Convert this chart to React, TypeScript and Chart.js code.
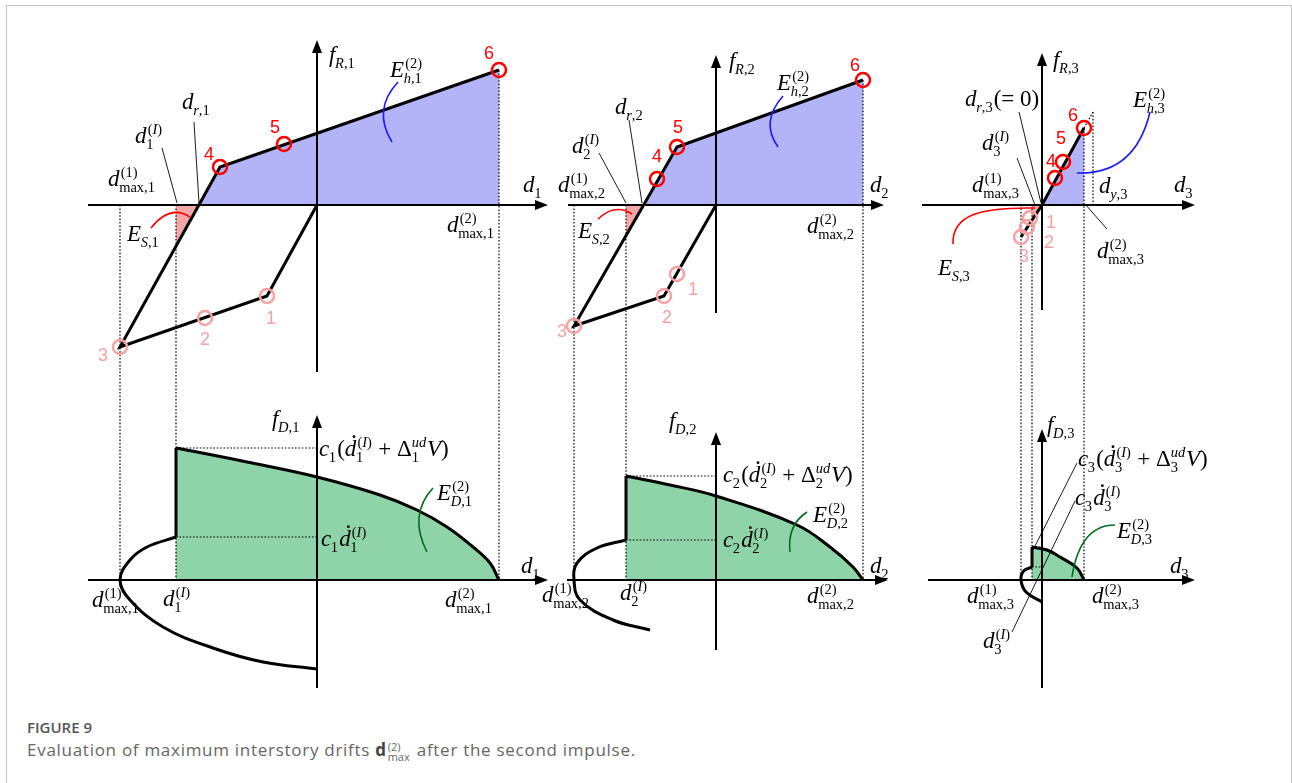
import { useEffect, useRef } from "react";
import { Chart, registerables } from "chart.js";

Chart.register(...registerables);

type Pt = { x: number; y: number };
const p = (x: number, y: number): Pt => ({ x, y });

// ── Story 1: restoring-force path (d1, fR1) and damping-force curves (d1, fD1) ──
const s1Path: Pt[] = [p(0, 0), p(-2.5, -4.55), p(-9.85, -7.1), p(-4.85, 1.9), p(9.1, 6.75)];
const s1Impulse1: Pt[] = [p(-2.5, -4.55), p(-5.6, -5.65), p(-9.85, -7.1)];
const s1Impulse2: Pt[] = [p(-4.85, 1.9), p(-1.65, 3.05), p(9.1, 6.75)];
const s1Drifts = [-9.85, -7.05, 9.1]; // d_max^(1), d^(I), d_max^(2)
const s1Damp2: Pt[] = [p(-7.05, 6.6), p(-3.5, 5.9), p(0, 5.15), p(3.15, 4.25), p(5.0, 3.5), p(6.5, 2.65), p(7.8, 1.65), p(8.65, 0.85), p(9.1, 0)];
const s1Damp1: Pt[] = [p(-7.05, 2.15), p(-8.5, 1.65), p(-9.35, 1.0), p(-9.85, 0), p(-9.35, -1.0), p(-7.7, -2.35), p(-5.2, -3.4), p(-2.7, -4.1), p(0, -4.45)];

// ── Story 2 ──
const s2Path: Pt[] = [p(0, 0), p(-2.6, -4.55), p(-7.1, -6.05), p(-1.95, 2.9), p(7.35, 6.25)];
const s2Impulse1: Pt[] = [p(-1.95, -3.45), p(-2.6, -4.55), p(-7.1, -6.05)];
const s2Impulse2: Pt[] = [p(-2.95, 1.3), p(-1.95, 2.9), p(7.35, 6.25)];
const s2Drifts = [-7.1, -4.5, 7.35];
const s2Damp2: Pt[] = [p(-4.5, 5.2), p(-2.3, 4.75), p(0, 4.2), p(4.05, 2.75), p(5.7, 1.65), p(6.85, 0.65), p(7.35, 0)];
const s2Damp1: Pt[] = [p(-4.5, 2.0), p(-5.95, 1.6), p(-6.95, 0.85), p(-7.1, 0), p(-6.8, -1.0), p(-5.15, -2.0), p(-3.3, -2.5)];

// ── Story 3 (stays elastic) ──
const s3Path: Pt[] = [p(-1.05, -1.6), p(0, 0), p(2.1, 3.85)];
const s3Impulse1: Pt[] = [p(-0.6, -0.65), p(-0.75, -1.1), p(-1.05, -1.6)];
const s3Impulse2: Pt[] = [p(0.65, 1.35), p(1.05, 2.15), p(2.1, 3.85)];
const s3Drifts = [-1.05, -0.5, 2.1];
const s3Yield: Pt = p(2.55, 4.65); // (d_y3, f at yield)
const s3Damp2: Pt[] = [p(-0.5, 1.65), p(0.25, 1.5), p(0.9, 1.15), p(1.75, 0.6), p(2.1, 0)];
const s3Damp1: Pt[] = [p(-0.5, 0.65), p(-0.92, 0.45), p(-1.05, 0), p(-0.8, -0.6), p(0, -1.1)];

const stories = [
  { path: s1Path, reload: 2, imp1: s1Impulse1, imp2: s1Impulse2, drifts: s1Drifts, damp2: s1Damp2, damp1: s1Damp1 },
  { path: s2Path, reload: 2, imp1: s2Impulse1, imp2: s2Impulse2, drifts: s2Drifts, damp2: s2Damp2, damp1: s2Damp1 },
  { path: s3Path, reload: 0, imp1: s3Impulse1, imp2: s3Impulse2, drifts: s3Drifts, damp2: s3Damp2, damp1: s3Damp1 },
];

// ── Layout ──
const W = 1292;
const H = 700;
const UNIT = 20; // px per unit on every axis
const ORIGIN_X = [317, 716, 1042];
const ORIGIN_YR = 205;
const ORIGIN_YD = 580;

// axis reach per story: [hMin, hMax (arrow tip), vMin, vMax (arrow tip)]
const axisReach = [
  { yR: [-11.45, 11.55, -8.35, 8.25], yD: [-11.45, 11.55, -5.4, 8.25] },
  { yR: [-7.4, 8.4, -5.4, 7.5], yD: [-7.45, 8.6, -3.5, 7.4] },
  { yR: [-6.0, 7.65, -5.25, 7.6], yD: [-5.7, 7.65, -5.4, 7.55] },
];

const INK = "#000";
const RED = "#ff0000";
const PINK = "#f6a2a2";
const HYST_FILL = "#b3b3f7";
const STRAIN_FILL = "#f5a6a6";
const DAMP_FILL = "#8fd4a8";
const CLEAR = "rgba(0,0,0,0)";

type Panel = "yR" | "yD";
type Label = { k: number; panel: Panel; at: Pt; tex: string };

const labels: Label[] = [
  // story 1, restoring force
  { k: 0, panel: "yR", at: p(0.6, 7.15), tex: "f_{R,1}" },
  { k: 0, panel: "yR", at: p(3.65, 6.4), tex: "E_{h,1}^{(2)}" },
  { k: 0, panel: "yR", at: p(-6.75, 4.8), tex: "d_{r,1}" },
  { k: 0, panel: "yR", at: p(-9.1, 3.1), tex: "d_1^{(I)}" },
  { k: 0, panel: "yR", at: p(-10.45, 0.95), tex: "d_{\\max,1}^{(1)}" },
  { k: 0, panel: "yR", at: p(-9.5, -1.8), tex: "E_{S,1}" },
  { k: 0, panel: "yR", at: p(6.5, -1.35), tex: "d_{\\max,1}^{(2)}" },
  { k: 0, panel: "yR", at: p(10.3, 0.65), tex: "d_1" },
  // story 1, damping force
  { k: 0, panel: "yD", at: p(-2.25, 7.7), tex: "f_{D,1}" },
  { k: 0, panel: "yD", at: p(0.1, 6.2), tex: "c_1(\\dot{d}_1^{(I)} + \\Delta_1^{ud}V)" },
  { k: 0, panel: "yD", at: p(0.2, 1.7), tex: "c_1\\dot{d}_1^{(I)}" },
  { k: 0, panel: "yD", at: p(6.0, 4.0), tex: "E_{D,1}^{(2)}" },
  { k: 0, panel: "yD", at: p(-11.25, -1.35), tex: "d_{\\max,1}^{(1)}" },
  { k: 0, panel: "yD", at: p(-7.7, -1.3), tex: "d_1^{(I)}" },
  { k: 0, panel: "yD", at: p(6.4, -1.35), tex: "d_{\\max,1}^{(2)}" },
  { k: 0, panel: "yD", at: p(10.2, 0.35), tex: "d_1" },
  // story 2, restoring force
  { k: 1, panel: "yR", at: p(0.65, 6.85), tex: "f_{R,2}" },
  { k: 1, panel: "yR", at: p(3.05, 5.75), tex: "E_{h,2}^{(2)}" },
  { k: 1, panel: "yR", at: p(-5.05, 4.55), tex: "d_{r,2}" },
  { k: 1, panel: "yR", at: p(-7.2, 2.6), tex: "d_2^{(I)}" },
  { k: 1, panel: "yR", at: p(-7.9, 0.65), tex: "d_{\\max,2}^{(1)}" },
  { k: 1, panel: "yR", at: p(-6.9, -1.65), tex: "E_{S,2}" },
  { k: 1, panel: "yR", at: p(4.55, -1.4), tex: "d_{\\max,2}^{(2)}" },
  { k: 1, panel: "yR", at: p(7.7, 0.65), tex: "d_2" },
  // story 2, damping force
  { k: 1, panel: "yD", at: p(-2.35, 7.6), tex: "f_{D,2}" },
  { k: 1, panel: "yD", at: p(0.35, 4.9), tex: "c_2(\\dot{d}_2^{(I)} + \\Delta_2^{ud}V)" },
  { k: 1, panel: "yD", at: p(0.35, 1.65), tex: "c_2\\dot{d}_2^{(I)}" },
  { k: 1, panel: "yD", at: p(4.85, 2.9), tex: "E_{D,2}^{(2)}" },
  { k: 1, panel: "yD", at: p(-8.7, -1.1), tex: "d_{\\max,2}^{(1)}" },
  { k: 1, panel: "yD", at: p(-4.8, -1.0), tex: "d_2^{(I)}" },
  { k: 1, panel: "yD", at: p(4.55, -1.15), tex: "d_{\\max,2}^{(2)}" },
  { k: 1, panel: "yD", at: p(7.7, 0.35), tex: "d_2" },
  // story 3, restoring force
  { k: 2, panel: "yR", at: p(0.55, 6.9), tex: "f_{R,3}" },
  { k: 2, panel: "yR", at: p(4.55, 4.9), tex: "E_{h,3}^{(2)}" },
  { k: 2, panel: "yR", at: p(-3.85, 4.95), tex: "d_{r,3}(= 0)" },
  { k: 2, panel: "yR", at: p(-3.0, 2.75), tex: "d_3^{(I)}" },
  { k: 2, panel: "yR", at: p(-3.5, 0.65), tex: "d_{\\max,3}^{(1)}" },
  { k: 2, panel: "yR", at: p(2.85, 0.6), tex: "d_{y,3}" },
  { k: 2, panel: "yR", at: p(2.75, -2.65), tex: "d_{\\max,3}^{(2)}" },
  { k: 2, panel: "yR", at: p(-5.2, -3.5), tex: "E_{S,3}" },
  { k: 2, panel: "yR", at: p(6.6, 0.65), tex: "d_3" },
  // story 3, damping force
  { k: 2, panel: "yD", at: p(0.25, 7.4), tex: "f_{D,3}" },
  { k: 2, panel: "yD", at: p(1.8, 5.7), tex: "c_3(\\dot{d}_3^{(I)} + \\Delta_3^{ud}V)" },
  { k: 2, panel: "yD", at: p(1.65, 3.75), tex: "c_3\\dot{d}_3^{(I)}" },
  { k: 2, panel: "yD", at: p(3.75, 2.1), tex: "E_{D,3}^{(2)}" },
  { k: 2, panel: "yD", at: p(-3.75, -1.15), tex: "d_{\\max,3}^{(1)}" },
  { k: 2, panel: "yD", at: p(2.5, -1.15), tex: "d_{\\max,3}^{(2)}" },
  { k: 2, panel: "yD", at: p(-2.95, -3.4), tex: "d_3^{(I)}" },
  { k: 2, panel: "yD", at: p(6.4, 0.35), tex: "d_3" },
];

// where the step numbers 1..6 sit, per story
const stepTextAt: Pt[][] = [
  [p(-2.3, -5.7), p(-5.6, -6.75), p(-10.7, -7.55), p(-5.4, 2.5), p(-2.1, 3.85), p(8.6, 7.55)],
  [p(-1.15, -4.25), p(-2.45, -5.65), p(-7.7, -6.35), p(-2.95, 2.4), p(-1.9, 3.85), p(6.95, 6.95)],
  [p(0.45, -0.9), p(0.35, -1.9), p(-0.9, -2.6), p(0.45, 2.15), p(0.95, 3.3), p(1.55, 4.45)],
];

// thin pointer lines from labels
const pointers: { k: number; panel: Panel; a: Pt; b: Pt }[] = [
  { k: 0, panel: "yR", a: p(-6.15, 4.15), b: p(-5.9, 0.1) },
  { k: 0, panel: "yR", a: p(-7.75, 2.85), b: p(-7.0, 0.1) },
  { k: 1, panel: "yR", a: p(-4.35, 4.25), b: p(-3.7, 0.1) },
  { k: 1, panel: "yR", a: p(-5.85, 2.6), b: p(-4.5, 0.1) },
  { k: 2, panel: "yR", a: p(-1.15, 4.65), b: p(-0.05, 0.1) },
  { k: 2, panel: "yR", a: p(-1.25, 2.35), b: p(-0.35, 0.0) },
  { k: 2, panel: "yR", a: p(2.15, 0.05), b: p(3.25, -1.2) },
  { k: 2, panel: "yD", a: p(1.75, 5.85), b: p(-0.45, 1.5) },
  { k: 2, panel: "yD", a: p(1.65, 3.95), b: p(-1.5, -2.6) },
];

// curved callouts for the energy areas
const callouts: { k: number; panel: Panel; pts: Pt[]; color: string }[] = [
  { k: 0, panel: "yR", pts: [p(4.05, 6.15), p(2.75, 4.75), p(3.75, 3.15)], color: "#1a1aff" },
  { k: 0, panel: "yR", pts: [p(-8.3, -1.15), p(-7.35, 0.05), p(-6.35, -0.6)], color: RED },
  { k: 0, panel: "yD", pts: [p(5.8, 4.6), p(4.55, 3.25), p(5.5, 1.4)], color: "#006b1a" },
  { k: 1, panel: "yR", pts: [p(3.35, 5.45), p(2.2, 4.15), p(3.1, 2.9)], color: "#1a1aff" },
  { k: 1, panel: "yR", pts: [p(-5.9, -0.7), p(-5.05, 0.1), p(-4.2, -0.45)], color: RED },
  { k: 1, panel: "yD", pts: [p(4.55, 3.4), p(3.55, 2.75), p(3.7, 1.4)], color: "#006b1a" },
  { k: 2, panel: "yR", pts: [p(5.4, 4.65), p(4.65, 1.5), p(1.75, 1.6)], color: "#1a1aff" },
  { k: 2, panel: "yR", pts: [p(-4.45, -1.95), p(-4.5, -0.5), p(-3.1, -0.1), p(-0.35, -0.15)], color: RED },
  { k: 2, panel: "yD", pts: [p(3.65, 2.75), p(1.9, 2.75), p(1.5, 0.15)], color: "#006b1a" },
];

// ── geometry helpers ──
const yOnSeg = (a: Pt, b: Pt, x: number) => a.y + ((b.y - a.y) * (x - a.x)) / (b.x - a.x);
const xAtZero = (a: Pt, b: Pt) => a.x + ((0 - a.y) * (b.x - a.x)) / (b.y - a.y);

// dotted guide segments: each end may live on a different panel
type Guide = { k: number; a: Pt; pa: Panel; b: Pt; pb: Panel };
function buildGuides(): Guide[] {
  const g: Guide[] = [];
  stories.forEach((s, k) => {
    const [dMax1, dI, dMax2] = s.drifts;
    const peak = s.imp2[s.imp2.length - 1];
    g.push({ k, a: p(dMax1, 0), pa: "yR", b: p(dMax1, 0), pb: "yD" });
    g.push({ k, a: p(dI, 0), pa: "yR", b: p(dI, 0), pb: "yD" });
    g.push({ k, a: p(dMax2, peak.y), pa: "yR", b: p(dMax2, 0), pb: "yD" });
    g.push({ k, a: p(dI, s.damp2[0].y), pa: "yD", b: p(0, s.damp2[0].y), pb: "yD" });
    g.push({ k, a: p(dI, s.damp1[0].y), pa: "yD", b: p(0, s.damp1[0].y), pb: "yD" });
  });
  const top3 = s3Impulse2[s3Impulse2.length - 1];
  g.push({ k: 2, a: top3, pa: "yR", b: s3Yield, pb: "yR" });
  g.push({ k: 2, a: s3Yield, pa: "yR", b: p(s3Yield.x, 0), pb: "yR" });
  return g;
}
const guides = buildGuides();

// ── tiny math-text typesetter (italic variables, upright digits, sub/superscripts, dot accent) ──
type MAtom = { t: "a"; s: string; it: boolean; dot?: boolean };
type MScript = { t: "s"; sub?: MItem[]; sup?: MItem[] };
type MItem = MAtom | MScript;

function parseTex(src: string): MItem[] {
  let i = 0;
  const token = (): MItem[] => {
    const c = src[i];
    if (c === "{") {
      i++;
      const g = seq();
      i++;
      return g;
    }
    if (c === "\\") {
      let j = i + 1;
      while (j < src.length && /[A-Za-z]/.test(src[j])) j++;
      const name = src.slice(i + 1, j);
      i = j;
      if (name === "dot") {
        const g = token();
        g.forEach((it) => {
          if (it.t === "a") it.dot = true;
        });
        return g;
      }
      return [{ t: "a", s: name === "Delta" ? "Δ" : name, it: false }];
    }
    i++;
    return [{ t: "a", s: c, it: /[A-Za-z]/.test(c) }];
  };
  const seq = (): MItem[] => {
    const out: MItem[] = [];
    while (i < src.length && src[i] !== "}") {
      const c = src[i];
      if (c === "_" || c === "^") {
        i++;
        const g = token();
        const key = c === "_" ? "sub" : "sup";
        const last = out[out.length - 1] as any;
        if (last && last.t === "s" && !last[key]) last[key] = g;
        else out.push({ t: "s", [key]: g } as MScript);
      } else out.push(...token());
    }
    return out;
  };
  return seq();
}

const SERIF = '"Liberation Serif", "Times New Roman", serif';
const LABEL_SIZE = 23;
const SCRIPT_RATIO = 0.63;

function texRun(ctx: CanvasRenderingContext2D, items: MItem[], x: number, y: number, size: number): number {
  let cx = x;
  items.forEach((it, idx) => {
    if (it.t === "a") {
      ctx.font = `${it.it ? "italic " : ""}${size}px ${SERIF}`;
      const w = ctx.measureText(it.s).width;
      ctx.fillText(it.s, cx, y);
      if (it.dot) {
        ctx.beginPath();
        ctx.arc(cx + w * 0.8, y - size * 0.84, size * 0.06, 0, Math.PI * 2);
        ctx.fill();
      }
      cx += w;
    } else {
      const ss = size * SCRIPT_RATIO;
      const prev = items[idx - 1];
      const kern = prev && prev.t === "a" && prev.it ? size * 0.05 : 0;
      let w = 0;
      if (it.sup) w = Math.max(w, kern + texRun(ctx, it.sup, cx + kern, y - size * 0.4, ss));
      if (it.sub) w = Math.max(w, texRun(ctx, it.sub, cx - kern * 0.3, y + size * 0.27, ss));
      cx += w + size * 0.03;
    }
  });
  return cx - x;
}

const parsedLabels = labels.map((l) => ({ ...l, items: parseTex(l.tex) }));

// ── chart ──
function buildDatasets() {
  const ds: any[] = [];
  stories.forEach((s, k) => {
    const xAxisID = `x${k}`;
    const [, dI, dMax2] = s.drifts;
    const a = s.path[s.reload];
    const b = s.path[s.reload + 1];
    const dr = xAtZero(a, b);
    const base = { xAxisID, pointRadius: 0, tension: 0, fill: false, borderColor: INK, borderWidth: 3, borderJoinStyle: "miter" };
    ds.push({ ...base, yAxisID: "yR", data: [p(dr, 0), ...s.path.slice(s.reload + 1), p(dMax2, 0)], fill: "origin", backgroundColor: HYST_FILL, borderColor: CLEAR, order: 3 });
    ds.push({ ...base, yAxisID: "yR", data: [p(dI, yOnSeg(a, b, dI)), p(dr, 0)], fill: "origin", backgroundColor: STRAIN_FILL, borderColor: CLEAR, order: 3 });
    ds.push({ ...base, yAxisID: "yD", data: s.damp2, tension: 0.4, fill: "origin", backgroundColor: DAMP_FILL, order: 1 });
    ds.push({ ...base, yAxisID: "yD", data: s.damp1, tension: 0.4, order: 1 });
    ds.push({ ...base, yAxisID: "yD", data: [s.damp1[0], s.damp2[0]], order: 1 });
    ds.push({ ...base, yAxisID: "yR", data: s.path, order: 1 });
    const ring = { ...base, yAxisID: "yR", showLine: false, pointRadius: 7, pointBorderWidth: 2.5, pointBackgroundColor: CLEAR, order: 0 };
    ds.push({ ...ring, data: s.imp1, pointBorderColor: PINK, borderColor: PINK });
    ds.push({ ...ring, data: s.imp2, pointBorderColor: RED, borderColor: RED });
  });
  return ds;
}

function buildScales() {
  const scales: any = {
    yR: { type: "linear", axis: "y", display: false, min: -(H - ORIGIN_YR) / UNIT, max: ORIGIN_YR / UNIT },
    yD: { type: "linear", axis: "y", display: false, min: -(H - ORIGIN_YD) / UNIT, max: ORIGIN_YD / UNIT },
  };
  ORIGIN_X.forEach((ox, k) => {
    scales[`x${k}`] = { type: "linear", axis: "x", display: false, min: -ox / UNIT, max: (W - ox) / UNIT };
  });
  return scales;
}

const sx = (chart: any, k: number, v: number) => chart.scales[`x${k}`].getPixelForValue(v);
const sy = (chart: any, panel: Panel, v: number) => chart.scales[panel].getPixelForValue(v);

const diagramPlugin = {
  id: "storyDiagram",
  beforeDatasetsDraw(chart: any) {
    const ctx: CanvasRenderingContext2D = chart.ctx;
    ctx.save();
    // dotted guides
    ctx.strokeStyle = INK;
    ctx.lineWidth = 1.2;
    ctx.setLineDash([1.6, 1.8]);
    guides.forEach((g) => {
      ctx.beginPath();
      ctx.moveTo(sx(chart, g.k, g.a.x), sy(chart, g.pa, g.a.y));
      ctx.lineTo(sx(chart, g.k, g.b.x), sy(chart, g.pb, g.b.y));
      ctx.stroke();
    });
    ctx.setLineDash([]);
    // axes with arrowheads
    const AH = 13;
    const AW = 5;
    axisReach.forEach((reach, k) => {
      (["yR", "yD"] as Panel[]).forEach((panel) => {
        const [h0, h1, v0, v1] = reach[panel];
        const ox = sx(chart, k, 0);
        const oy = sy(chart, panel, 0);
        const xa = sx(chart, k, h0);
        const xb = sx(chart, k, h1);
        const ya = sy(chart, panel, v0);
        const yb = sy(chart, panel, v1);
        ctx.strokeStyle = INK;
        ctx.fillStyle = INK;
        ctx.lineWidth = 2;
        ctx.beginPath();
        ctx.moveTo(xa, oy);
        ctx.lineTo(xb - AH + 1, oy);
        ctx.moveTo(ox, ya);
        ctx.lineTo(ox, yb + AH - 1);
        ctx.stroke();
        ctx.beginPath();
        ctx.moveTo(xb, oy);
        ctx.lineTo(xb - AH, oy - AW);
        ctx.lineTo(xb - AH, oy + AW);
        ctx.closePath();
        ctx.fill();
        ctx.beginPath();
        ctx.moveTo(ox, yb);
        ctx.lineTo(ox - AW, yb + AH);
        ctx.lineTo(ox + AW, yb + AH);
        ctx.closePath();
        ctx.fill();
      });
    });
    ctx.restore();
  },
  afterDatasetsDraw(chart: any) {
    const ctx: CanvasRenderingContext2D = chart.ctx;
    ctx.save();
    // pointer lines
    ctx.strokeStyle = INK;
    ctx.lineWidth = 0.9;
    pointers.forEach((l) => {
      ctx.beginPath();
      ctx.moveTo(sx(chart, l.k, l.a.x), sy(chart, l.panel, l.a.y));
      ctx.lineTo(sx(chart, l.k, l.b.x), sy(chart, l.panel, l.b.y));
      ctx.stroke();
    });
    // callout curves
    ctx.lineWidth = 1.6;
    callouts.forEach((c) => {
      const q = c.pts.map((t) => [sx(chart, c.k, t.x), sy(chart, c.panel, t.y)]);
      ctx.strokeStyle = c.color;
      ctx.beginPath();
      ctx.moveTo(q[0][0], q[0][1]);
      if (q.length === 3) ctx.quadraticCurveTo(q[1][0], q[1][1], q[2][0], q[2][1]);
      else ctx.bezierCurveTo(q[1][0], q[1][1], q[2][0], q[2][1], q[3][0], q[3][1]);
      ctx.stroke();
    });
    // math labels
    ctx.fillStyle = INK;
    ctx.textBaseline = "alphabetic";
    ctx.textAlign = "left";
    parsedLabels.forEach((l) => {
      texRun(ctx, l.items, sx(chart, l.k, l.at.x), sy(chart, l.panel, l.at.y), LABEL_SIZE);
    });
    // step numbers
    ctx.font = '18px "Liberation Sans", Arial, sans-serif';
    ctx.textAlign = "center";
    ctx.textBaseline = "middle";
    stepTextAt.forEach((list, k) => {
      list.forEach((t, n) => {
        ctx.fillStyle = n < 3 ? PINK : RED;
        ctx.fillText(String(n + 1), sx(chart, k, t.x), sy(chart, "yR", t.y));
      });
    });
    ctx.restore();
  },
};

export default function App() {
  const canvasRef = useRef<HTMLCanvasElement | null>(null);

  useEffect(() => {
    if (!canvasRef.current) return;
    const chart = new Chart(canvasRef.current, {
      type: "line",
      data: { datasets: buildDatasets() },
      options: {
        responsive: false,
        animation: false,
        devicePixelRatio: 1,
        events: [],
        layout: { padding: 0, autoPadding: false },
        scales: buildScales(),
        plugins: {
          legend: { display: false },
          tooltip: { enabled: false },
          filler: { drawTime: "beforeDatasetsDraw", propagate: false },
        } as any,
      },
      plugins: [diagramPlugin],
    } as any);
    return () => chart.destroy();
  }, []);

  const sans = '"Open Sans", "Noto Sans", Arial, sans-serif';
  return (
    <div style={{ position: "fixed", inset: 0, overflow: "hidden", background: "#fff" }}>
      <div
        style={{
          position: "absolute",
          left: 6,
          top: 5,
          width: 1286,
          height: 778,
          boxSizing: "border-box",
          border: "1px solid #c4c4c4",
          borderBottom: "none",
        }}
      />
      <canvas ref={canvasRef} width={W} height={H} style={{ position: "absolute", left: 0, top: 0 }} />
      <div style={{ position: "absolute", left: 27, top: 717, fontFamily: sans, fontSize: 15, fontWeight: 600, color: "#555", lineHeight: "20px" }}>
        FIGURE 9
      </div>
      <div style={{ position: "absolute", left: 27, top: 739, fontFamily: sans, fontSize: 17, letterSpacing: "0.72px", color: "#666", lineHeight: "22px", whiteSpace: "nowrap" }}>
        Evaluation of maximum interstory drifts <span style={{ fontWeight: 700, color: "#444" }}>d</span>
        <span style={{ display: "inline-flex", flexDirection: "column", fontSize: "0.64em", lineHeight: "0.95", verticalAlign: "0.45em", margin: "0 2px 0 1px", letterSpacing: 0 }}>
          <span>(2)</span>
          <span>max</span>
        </span>{" "}
        after the second impulse.
      </div>
    </div>
  );
}
